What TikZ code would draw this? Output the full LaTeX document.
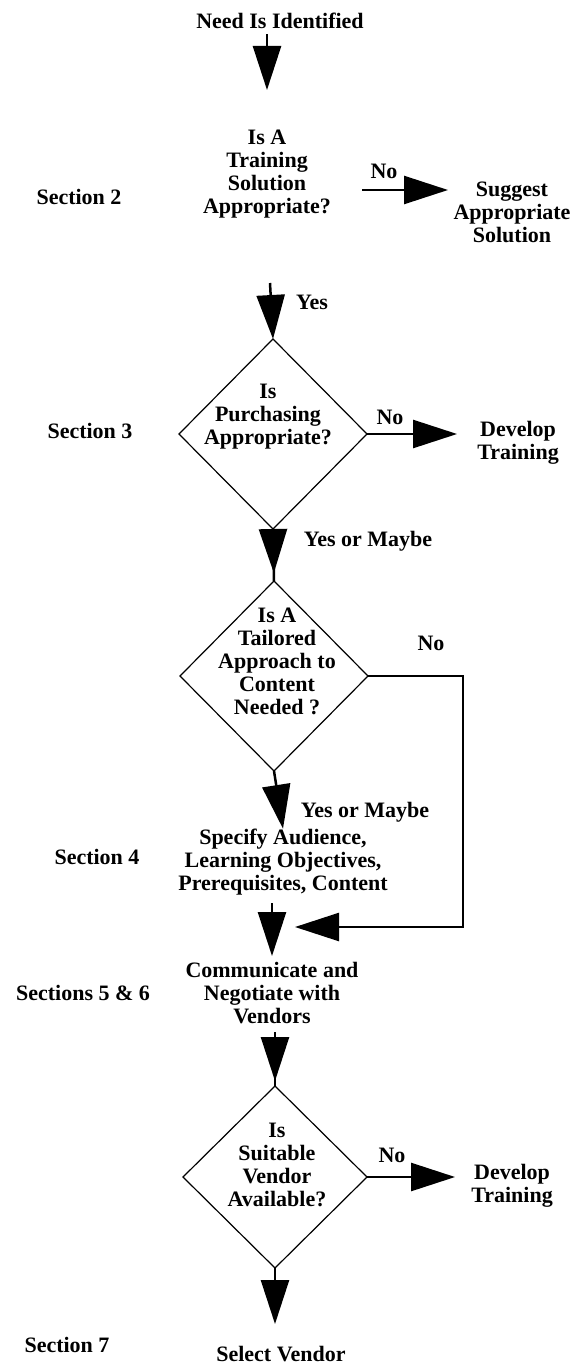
\documentclass[tikz,border=0pt]{standalone}
\usepackage{fontspec}
\setmainfont{Liberation Serif}
\usetikzlibrary{shapes.geometric,arrows.meta}
\begin{document}
\begin{tikzpicture}[x=1pt,y=-1pt,
  txt/.style={align=center,font=\fontsize{22}{23}\selectfont\bfseries,inner sep=0pt},
  dia/.style={diamond,draw,line width=1.2pt,inner sep=0pt,outer sep=0pt},
  conn/.style={line width=2.5pt},
  arr/.style={conn,-{Triangle[length=44pt,width=28pt]}}]
\useasboundingbox (0,0) rectangle (577,1367);

% top
\node[txt] (need) at (280,21) {Need Is Identified};
\coordinate (a1) at (267,90);
\draw[arr,shorten <=5pt] (need.south -| a1) -- (a1);

% section 2
\node[txt] (d1) at (267,174) {Is A\\Training\\Solution\\Appropriate?};
\node[txt] (s2) at (79,197) {Section 2};
\coordinate (n1s) at (362,190);
\coordinate (n1e) at (448,190);
\draw[arr] (n1s) -- (n1e);
\node[txt] (no1) at (384,171) {No};
\node[txt] (sug) at (512,212) {Suggest\\Appropriate\\Solution};

% section 3
\coordinate (y1s) at (270,283);
\node[dia,minimum width=188pt,minimum height=190pt] (d2) at (273,434) {};
\draw[arr] (y1s) -- (d2.north);
\node[txt] (yes1) at (312,302) {Yes};
\node[txt] (t2) at (268,417) {Is\\Purchasing\\Appropriate?};
\node[txt] (s3) at (90,431) {Section 3};
\node[txt] (no2) at (390,417) {No};
\node[txt] (dev1) at (518,443) {Develop\\Training};
\draw[arr,shorten >=20pt] (d2.east) -- (d2.east -| dev1.west);

% tailored
\node[dia,minimum width=188pt,minimum height=190pt] (d3) at (274,676) {};
\draw[conn] (d2.south) -- (d3.north);
\draw[arr,shorten >=8pt] (d2.south) -- (d3.north);
\node[txt] (ym1) at (368,541) {Yes or Maybe};
\node[txt] (t3) at (277,661) {Is A\\Tailored\\Approach to\\Content\\Needed ?};
\node[txt] (no3) at (431,643) {No};
\coordinate (c3) at (463,927);
\coordinate (lt) at (295,927);
\draw[arr] (d3.east) -| (c3) -- (lt);

% section 4
\node[txt] (spec) at (283,862) {Specify Audience,\\Learning Objectives,\\Prerequisites, Content};
\draw[arr] (d3.south) -- (spec.north);
\node[txt] (ym2) at (365,812) {Yes or Maybe};
\node[txt] (s4) at (97,857) {Section 4};

% sections 5 & 6
\node[txt] (comm) at (272,993) {Communicate and\\Negotiate with\\Vendors};
\draw[arr,shorten <=8pt,shorten >=6pt] (spec.south -| comm.north) -- (comm.north);
\node[txt] (s56) at (83,993) {Sections 5 \& 6};

% vendor
\node[dia,minimum width=184pt,minimum height=182pt] (d4) at (275,1177) {};
\draw[conn,shorten <=8pt] (comm.south -| d4.north) -- (d4.north);
\draw[arr,shorten <=8pt,shorten >=5pt] (comm.south -| d4.north) -- (d4.north);
\node[txt] (t4) at (277,1165) {Is\\Suitable\\Vendor\\Available?};
\node[txt] (no4) at (392,1155) {No};
\node[txt] (dev2) at (512,1186) {Develop\\Training};
\draw[arr,shorten >=16pt] (d4.east) -- (d4.east -| dev2.west);

% section 7
\node[txt] (sel) at (281,1354) {Select Vendor};
\draw[arr,shorten >=22pt] (d4.south) -- (d4.south |- sel.north);
\node[txt] (s7) at (67,1345) {Section 7};
\end{tikzpicture}
\end{document}
